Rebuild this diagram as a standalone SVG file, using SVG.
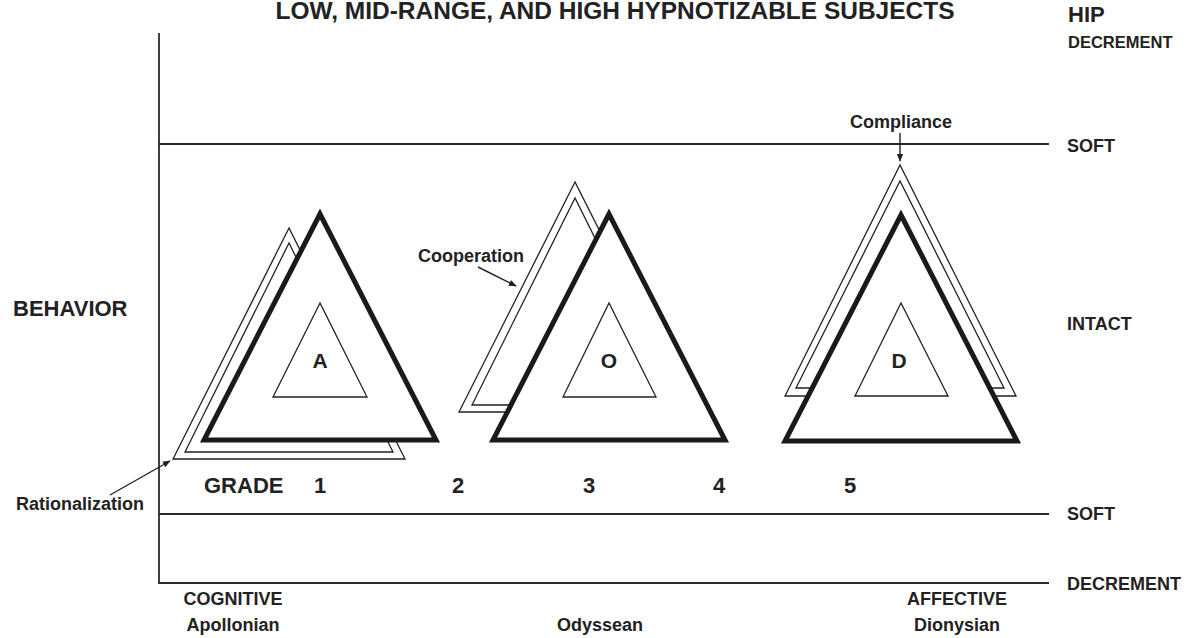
<svg xmlns="http://www.w3.org/2000/svg" width="1190" height="638" viewBox="0 0 1190 638">
  <defs>
    <marker id="arrow" viewBox="0 0 10 10" refX="9" refY="5" markerWidth="8" markerHeight="8" orient="auto" markerUnits="userSpaceOnUse">
      <path d="M0,1 L10,5 L0,9 Z" fill="#222"/>
    </marker>
  </defs>
  <style>
    text { font-family: "Liberation Sans", Arial, sans-serif; font-weight: bold; fill: #222; }
    .axis { stroke: #2a2a2a; stroke-width: 1.8; fill: none; }
    .thin { fill: #fff; stroke: #222; stroke-width: 1.3; stroke-linejoin: miter; }
    .thick { fill: #fff; stroke: #1a1a1a; stroke-width: 5; stroke-linejoin: miter; }
    .lbl { font-size: 18px; }
    .big { font-size: 22px; }
    .ptr { stroke: #222; stroke-width: 1.4; fill: none; }
  </style>

  <rect width="1190" height="638" fill="#fff"/>

  <!-- title -->
  <text x="615" y="19" font-size="23" text-anchor="middle" textLength="679" lengthAdjust="spacingAndGlyphs">LOW, MID-RANGE, AND HIGH HYPNOTIZABLE SUBJECTS</text>

  <!-- axes and level lines -->
  <g id="axes">
    <line class="axis" x1="159" y1="33" x2="159" y2="584"/>
    <line class="axis" x1="158" y1="583" x2="1049" y2="583"/>
    <line class="axis" x1="159" y1="144" x2="1049" y2="144"/>
    <line class="axis" x1="159" y1="514" x2="1049" y2="514"/>
  </g>

  <!-- right-hand scale labels -->
  <g id="scale-labels">
    <text class="big" x="1068" y="22">HIP</text>
    <text x="1068" y="48" font-size="16.5">DECREMENT</text>
    <text class="lbl" x="1067" y="152">SOFT</text>
    <text class="lbl" x="1067" y="330">INTACT</text>
    <text class="lbl" x="1067" y="520">SOFT</text>
    <text class="lbl" x="1067" y="590">DECREMENT</text>
  </g>

  <text id="behavior" class="big" x="13" y="316">BEHAVIOR</text>

  <!-- Apollonian triad -->
  <g id="node-A">
    <polygon class="thin" points="289,228 173,459 405,459"/>
    <polygon class="thin" points="289,243 185,452 393,452"/>
    <polygon class="thick" points="320,214 204,440 436,440"/>
    <polygon class="thin" points="320,303 273,397 367,397"/>
    <text x="320" y="368" font-size="21" text-anchor="middle">A</text>
  </g>

  <!-- Odyssean triad -->
  <g id="node-O">
    <polygon class="thin" points="575,182 459,412 691,412"/>
    <polygon class="thin" points="575,198 472,405 678,405"/>
    <polygon class="thick" points="609,214 493,440 725,440"/>
    <polygon class="thin" points="609,303 563,397 656,397"/>
    <text x="609" y="368" font-size="21" text-anchor="middle">O</text>
  </g>

  <!-- Dionysian triad -->
  <g id="node-D">
    <polygon class="thin" points="900,165 785,396 1016,396"/>
    <polygon class="thin" points="900,181 796,388 1004,388"/>
    <polygon class="thick" points="901,215 785,441 1017,441"/>
    <polygon class="thin" points="901,303 855,396 948,396"/>
    <text x="899" y="368" font-size="21" text-anchor="middle">D</text>
  </g>

  <!-- pointer labels -->
  <g id="connectors">
    <line class="ptr" x1="110" y1="495" x2="170" y2="461" marker-end="url(#arrow)"/>
    <line class="ptr" x1="478" y1="267" x2="516" y2="286" marker-end="url(#arrow)"/>
    <line class="ptr" x1="900" y1="133" x2="900" y2="161" marker-end="url(#arrow)"/>
  </g>
  <g id="pointer-labels">
    <text class="lbl" x="16" y="510">Rationalization</text>
    <text class="lbl" x="418" y="262">Cooperation</text>
    <text class="lbl" x="901" y="128" text-anchor="middle">Compliance</text>
  </g>

  <!-- grade scale -->
  <g id="grades">
    <text class="big" x="204" y="493">GRADE</text>
    <text class="big" x="320" y="493" text-anchor="middle">1</text>
    <text class="big" x="458" y="493" text-anchor="middle">2</text>
    <text class="big" x="589" y="493" text-anchor="middle">3</text>
    <text class="big" x="719" y="493" text-anchor="middle">4</text>
    <text class="big" x="850" y="493" text-anchor="middle">5</text>
  </g>

  <!-- bottom axis labels -->
  <g id="bottom-labels">
    <text class="lbl" x="233" y="605" text-anchor="middle">COGNITIVE</text>
    <text class="lbl" x="233" y="631" text-anchor="middle">Apollonian</text>
    <text class="lbl" x="600" y="631" text-anchor="middle">Odyssean</text>
    <text class="lbl" x="957" y="605" text-anchor="middle">AFFECTIVE</text>
    <text class="lbl" x="957" y="631" text-anchor="middle">Dionysian</text>
  </g>
</svg>
